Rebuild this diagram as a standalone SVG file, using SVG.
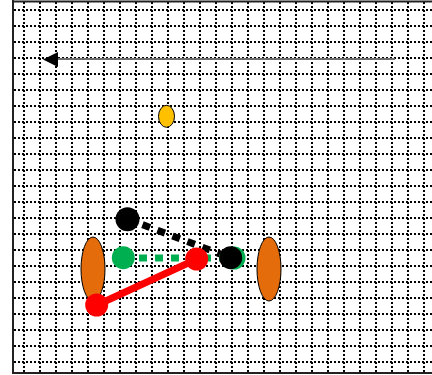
<svg xmlns="http://www.w3.org/2000/svg" width="432" height="375" viewBox="0 0 432 375">
<style>
.grid{fill:none;stroke:#000;stroke-width:2;stroke-dasharray:2 2}
.frame{fill:none;stroke:#222;stroke-width:2}
.orange{fill:#E46C0A;stroke:#000;stroke-width:1}
.gold{fill:#FFC000;stroke:#000;stroke-width:1}
.green{fill:#00B050}
.black{fill:#000}
.red{fill:#FF0000}
</style>
<rect width="432" height="375" fill="#fff"/>
<g id="grid">
<path class="grid" d="M14 10H432M14 26H432M14 42H432M14 58H432M14 74H432M14 90H432M14 106H432M14 122H432M14 138H432M14 154H432M14 170H432M14 186H432M14 202H432M14 218H432M14 234H432M14 250H432M14 266H432M14 282H432M14 298H432M14 314H432M14 330H432M14 346H432M14 362H432"/>
<path class="grid" d="M24 2V372M40 2V372M56 2V372M72 2V372M88 2V372M104 2V372M120 2V372M136 2V372M152 2V372M168 2V372M184 2V372M200 2V372M216 2V372M232 2V372M248 2V372M264 2V372M280 2V372M296 2V372M312 2V372M328 2V372M344 2V372M360 2V372M376 2V372M392 2V372M408 2V372M424 2V372"/>
</g>
<g id="frame">
<path class="frame" d="M13 0V374M12 1.5H432M12 373H432"/>
</g>
<g id="connectors">
<line x1="395" y1="59" x2="58" y2="59" stroke="#6e6e6e" stroke-width="2"/>
<path d="M43,59.5 L58,52 L58,67 Z" fill="#000"/>
<line x1="127.5" y1="219" x2="231" y2="258" stroke="#000" stroke-width="7" stroke-dasharray="8 8"/>
<line x1="123" y1="258" x2="235" y2="258" stroke="#00B050" stroke-width="7" stroke-dasharray="8 8"/>
<line x1="97" y1="305" x2="197" y2="259" stroke="#FF0000" stroke-width="7"/>
</g>
<g id="ellipse-left"><ellipse class="orange" cx="93" cy="269" rx="12" ry="32"/></g>
<g id="ellipse-right"><ellipse class="orange" cx="269" cy="269" rx="12" ry="32"/></g>
<g id="ellipse-top"><ellipse class="gold" cx="166.5" cy="116.3" rx="8" ry="11"/></g>
<g id="green-left"><circle class="green" cx="123.3" cy="257.7" r="11.5"/></g>
<g id="green-right"><circle class="green" cx="234" cy="258" r="11.5"/></g>
<g id="black-top"><circle class="black" cx="127.5" cy="219.3" r="12"/></g>
<g id="black-right"><circle class="black" cx="230.7" cy="257.7" r="11.5"/></g>
<g id="red-right"><circle class="red" cx="196.7" cy="259" r="11.5"/></g>
<g id="red-left"><circle class="red" cx="96.7" cy="305" r="11.5"/></g>
</svg>
